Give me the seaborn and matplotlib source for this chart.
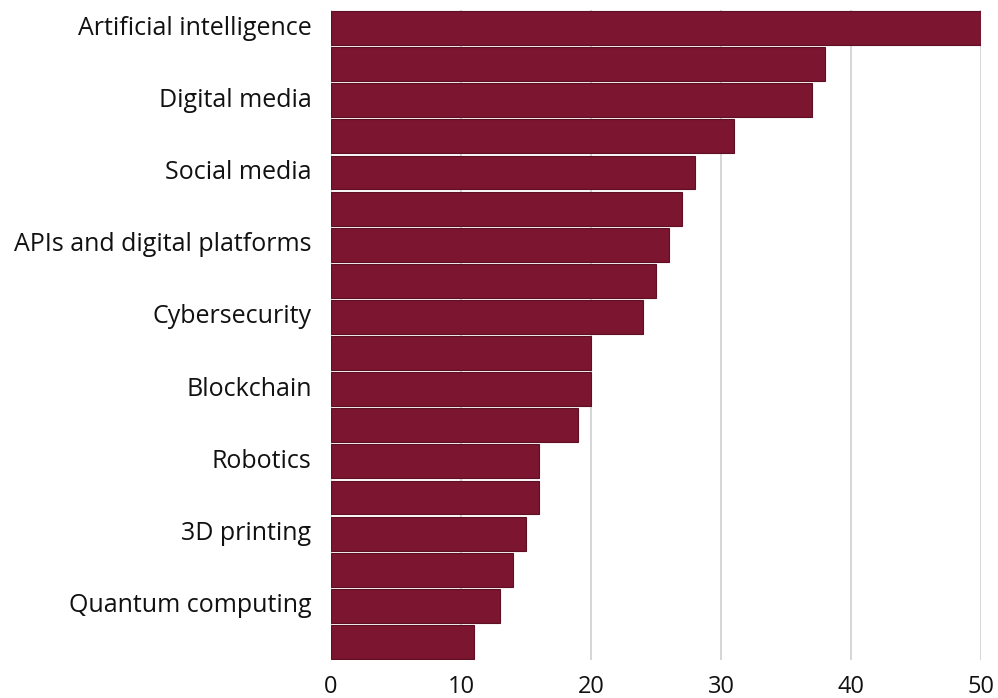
import matplotlib
matplotlib.use("Agg")
import matplotlib.pyplot as plt
import seaborn as sns
import pandas as pd

positions = list(range(18))
tick_labels = ["Artificial intelligence", "", "Digital media", "", "Social media", "",
               "APIs and digital platforms", "", "Cybersecurity", "", "Blockchain", "",
               "Robotics", "", "3D printing", "", "Quantum computing", ""]
values = [50, 38, 37, 31, 28, 27, 26, 25, 24, 20, 20, 19, 16, 16, 15, 14, 13, 11]
x_ticks = [0, 10, 20, 30, 40, 50]

sns.set_theme(style="white")
plt.rcParams['font.family'] = ['Open Sans', 'DejaVu Sans']

df = pd.DataFrame({"pos": [str(p) for p in positions], "value": values})

fig = plt.figure(figsize=(9.98, 6.98), dpi=100)
ax = fig.add_axes([331/998, 38/698, 650/998, 650/698])
sns.barplot(data=df, x="value", y="pos", orient="h", color="#7B1530",
            saturation=1, width=0.94, edgecolor="#5E0F24", linewidth=0.8, ax=ax)
ax.set_xlim(0, 50)
ax.set_ylim(17.5, -0.5)
ax.set_xticks(x_ticks)
ax.set_xticklabels([str(t) for t in x_ticks], fontsize=17, color="#111111")
ax.set_yticks(positions)
ax.set_yticklabels(tick_labels, fontsize=18, color="#111111", va="center")
for lbl in ax.get_yticklabels():
    lbl.set_y(lbl.get_position()[1])
ax.set_xlabel("")
ax.set_ylabel("")
ax.xaxis.grid(True, color="#d0d0d0", linewidth=1.2)
ax.set_axisbelow(True)
for s in ax.spines.values():
    s.set_visible(False)
ax.tick_params(axis="y", length=0, pad=14)
ax.tick_params(axis="x", length=0, pad=11)
fig.savefig("out.png", dpi=100, facecolor="white")
